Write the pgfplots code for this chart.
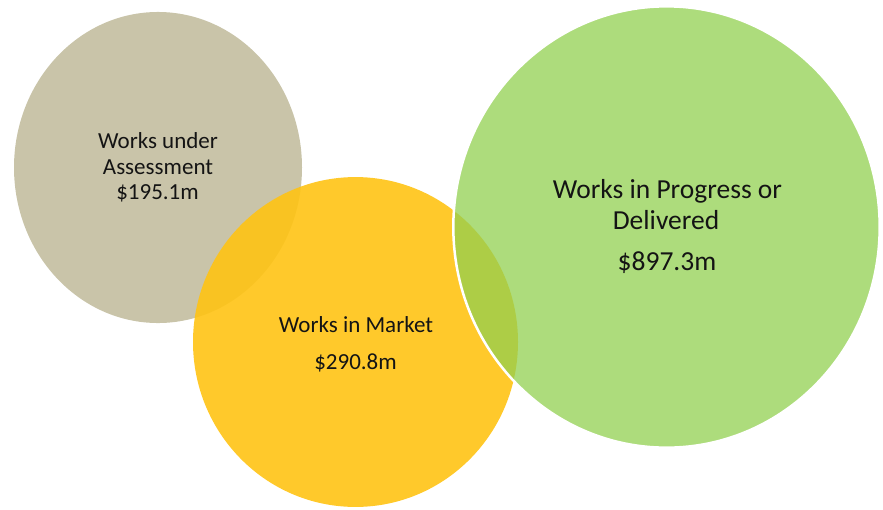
\documentclass[border=0pt]{standalone}
\usepackage{pgfplots}
\pgfplotsset{compat=1.18}
\usepackage{fontspec}
\setmainfont{Carlito}

\definecolor{assessgray}{RGB}{201,196,169}
\definecolor{marketyellow}{RGB}{255,195,20}
\definecolor{progressgreen}{RGB}{146,208,80}
\definecolor{labeltext}{RGB}{20,20,20}

\begin{document}
\begin{tikzpicture}
  \begin{axis}[
      scale only axis,
      width=883pt, height=509pt,
      xmin=0, xmax=883, ymin=0, ymax=509,
      y dir=reverse,
      hide axis,
      clip=false,
    ]
    % bubbles: centre (x,y) in picture units, radius set by mark size
    \addplot[only marks, mark=*, mark size=144pt, draw=none,
      mark options={draw opacity=0, fill=assessgray, yscale=1.08}]
      coordinates {(158,167.5)};
    \addplot[only marks, mark=*, mark size=162.5pt, draw=none,
      mark options={draw opacity=0, fill=marketyellow, fill opacity=0.9, yscale=1.015}]
      coordinates {(355.5,342)};
    \addplot[only marks, mark=*, mark size=213.2pt,
      mark options={draw=white, line width=2.5pt, fill=progressgreen,
        fill opacity=0.75, yscale=1.035}]
      coordinates {(666.5,227)};

    % label anchors (baselines)
    \coordinate (a1) at (axis cs:158,148.3);
    \coordinate (a2) at (axis cs:158,175);
    \coordinate (a3) at (axis cs:157.5,199.3);
    \coordinate (m1) at (axis cs:356,332.3);
    \coordinate (m2) at (axis cs:355.5,369);
    \coordinate (p1) at (axis cs:667.5,198.3);
    \coordinate (p2) at (axis cs:666,229.3);
    \coordinate (p3) at (axis cs:667,270.7);
  \end{axis}

  \begin{scope}[every node/.style={anchor=base, inner sep=0pt, text=labeltext}]
    \node[font=\fontsize{23}{26}\selectfont] at (a1) {Works under};
    \node[font=\fontsize{23}{26}\selectfont] at (a2) {Assessment};
    \node[font=\fontsize{23}{26}\selectfont] at (a3) {\$195.1m};

    \node[font=\fontsize{23}{26}\selectfont] at (m1) {Works in Market};
    \node[font=\fontsize{23}{26}\selectfont] at (m2) {\$290.8m};

    \node[font=\fontsize{27.5}{30}\selectfont] at (p1) {Works in Progress or};
    \node[font=\fontsize{27.5}{30}\selectfont] at (p2) {Delivered};
    \node[font=\fontsize{27.5}{30}\selectfont] at (p3) {\$897.3m};
  \end{scope}

  \pgfresetboundingbox
  \path (current axis.south west) rectangle (current axis.north east);
\end{tikzpicture}
\end{document}
